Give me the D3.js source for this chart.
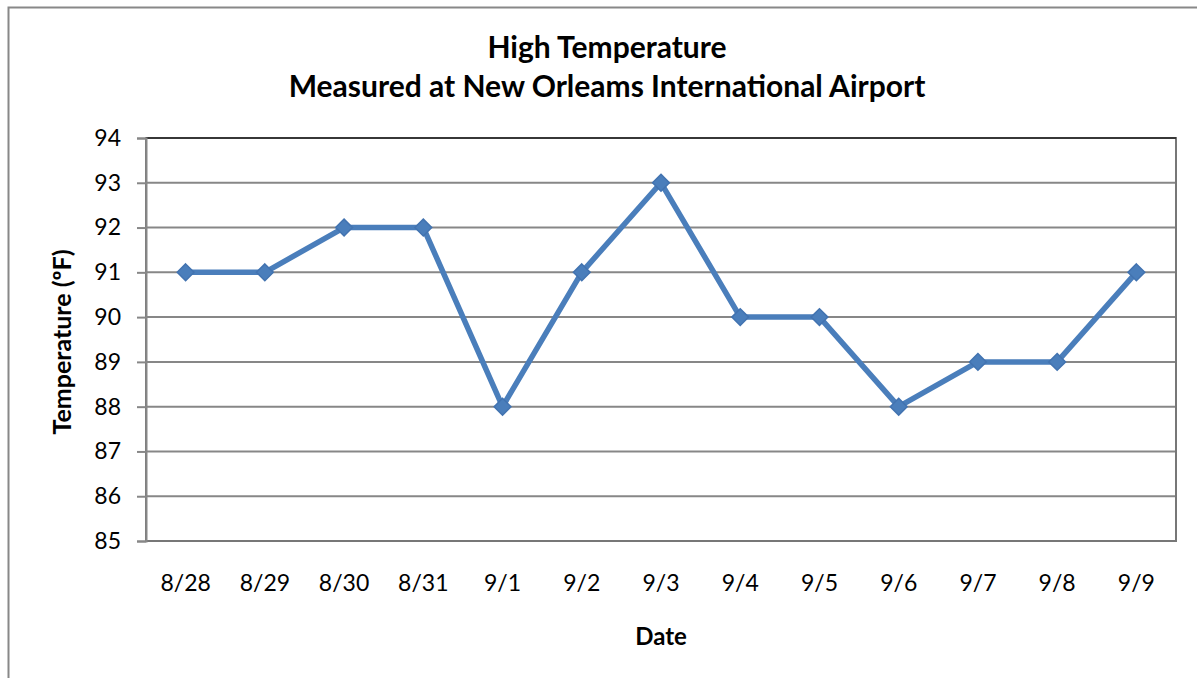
<!DOCTYPE html>
<html>
<head>
<meta charset="utf-8">
<script src="https://cdn.jsdelivr.net/npm/d3@7"></script>
<style>
  html, body { margin: 0; padding: 0; background: #fff; }
  svg { display: block; }
  text { font-family: Lato, "Open Sans", sans-serif; fill: #000; }
</style>
</head>
<body>
<svg id="chart" width="1197" height="678"></svg>
<script>
// Daily high temperatures, New Orleans International Airport
const dates = ["8/28", "8/29", "8/30", "8/31", "9/1", "9/2", "9/3", "9/4", "9/5", "9/6", "9/7", "9/8", "9/9"];
const highs = [91, 91, 92, 92, 88, 91, 93, 90, 90, 88, 89, 89, 91];
const yTicks = [85, 86, 87, 88, 89, 90, 91, 92, 93, 94];
const titleLines = ["High Temperature", "Measured at New Orleams International Airport"];

const svg = d3.select("#chart");
const plot = { left: 146, top: 138, right: 1176, bottom: 541 };

// chart frame
svg.append("rect")
  .attr("x", 8.5).attr("y", 7.5)
  .attr("width", 1197).attr("height", 700)
  .attr("fill", "#fff").attr("stroke", "#888").attr("stroke-width", 2);

const x = d3.scaleBand().domain(dates).range([plot.left, plot.right]);
const y = d3.scaleLinear().domain([85, 94]).range([plot.bottom, plot.top]);

// horizontal gridlines
svg.append("g").selectAll("line").data(yTicks).join("line")
  .attr("x1", plot.left).attr("x2", plot.right)
  .attr("y1", d => y(d)).attr("y2", d => y(d))
  .attr("stroke", "#878787").attr("stroke-width", 2);

// plot area border
svg.append("rect")
  .attr("x", plot.left).attr("y", plot.top)
  .attr("width", plot.right - plot.left).attr("height", plot.bottom - plot.top)
  .attr("fill", "none").attr("stroke", "#777").attr("stroke-width", 2);
svg.append("line")
  .attr("x1", plot.left).attr("x2", plot.right)
  .attr("y1", plot.top).attr("y2", plot.top)
  .attr("stroke", "#222").attr("stroke-width", 1.5);

// y axis
const yAxis = svg.append("g")
  .attr("transform", `translate(${plot.left},0)`)
  .call(d3.axisLeft(y).tickValues(yTicks).tickSize(9).tickPadding(16).tickFormat(d3.format("d")));
yAxis.select(".domain").attr("stroke", "#878787").attr("stroke-width", 2);
yAxis.selectAll(".tick line").attr("stroke", "#878787").attr("stroke-width", 2);
yAxis.selectAll(".tick text").attr("font-size", 23).attr("font-family", "Lato, sans-serif").attr("fill", "#000");

// x axis (labels only)
const xAxis = svg.append("g")
  .attr("transform", `translate(0,${plot.bottom})`)
  .call(d3.axisBottom(x).tickSize(0).tickPadding(34));
xAxis.select(".domain").remove();
xAxis.selectAll(".tick text").attr("font-size", 23).attr("font-family", "Lato, sans-serif").attr("fill", "#000");

// series line
const line = d3.line()
  .x((d, i) => x(dates[i]) + x.bandwidth() / 2)
  .y(d => y(d));
svg.append("path")
  .datum(highs)
  .attr("d", line)
  .attr("fill", "none")
  .attr("stroke", "#4a7ebb")
  .attr("stroke-width", 5.5)
  .attr("stroke-linejoin", "round");

// diamond markers
const diamond = d3.symbol().type(d3.symbolDiamond2).size(180);
svg.append("g").selectAll("path").data(highs).join("path")
  .attr("d", diamond)
  .attr("transform", (d, i) => `translate(${x(dates[i]) + x.bandwidth() / 2},${y(d)})`)
  .attr("fill", "#4a7ebb")
  .attr("stroke", "#4273b0").attr("stroke-width", 1.5);

// title
svg.append("g").selectAll("text").data(titleLines).join("text")
  .attr("x", 607).attr("y", (d, i) => 58 + i * 39)
  .attr("text-anchor", "middle")
  .attr("font-size", 30).attr("font-weight", "bold")
  .text(d => d);

// axis titles
svg.append("text")
  .attr("x", 661).attr("y", 645)
  .attr("text-anchor", "middle")
  .attr("font-size", 24).attr("font-weight", "bold")
  .text("Date");
svg.append("text")
  .attr("transform", "translate(71,342) rotate(-90)")
  .attr("text-anchor", "middle")
  .attr("font-size", 25).attr("font-weight", "bold")
  .text("Temperature (ºF)");
</script>
</body>
</html>
